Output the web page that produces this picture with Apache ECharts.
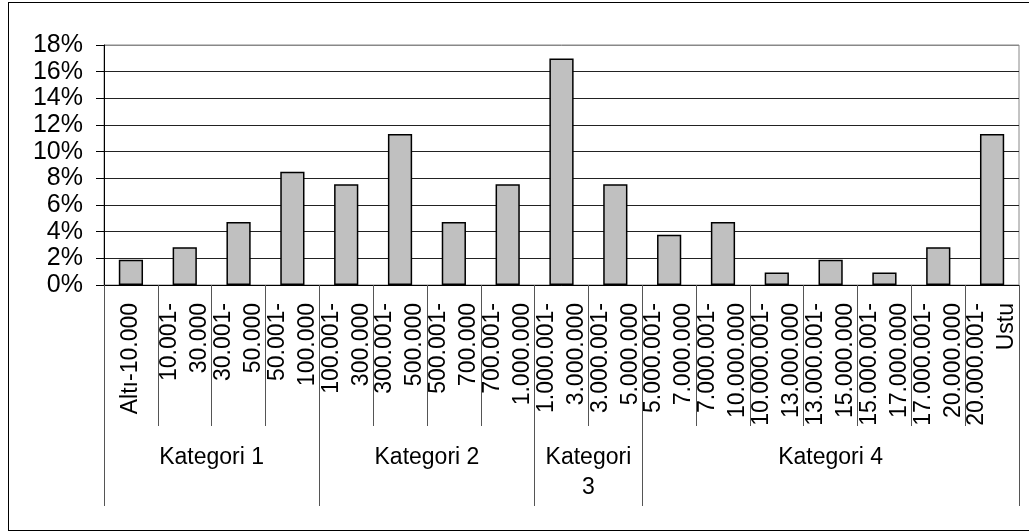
<!DOCTYPE html>
<html>
<head>
<meta charset="utf-8">
<script src="https://cdn.jsdelivr.net/npm/echarts@6/dist/echarts.min.js"></script>
<style>
    html, body { margin: 0; padding: 0; overflow: hidden; background: #fff; }
    #frame {
        position: absolute; left: 8px; top: 2px; width: 1060px; height: 529px;
        border: 1px solid #000; box-sizing: border-box;
    }
    #chart { position: absolute; left: 0; top: 0; width: 1029px; height: 531px; }
</style>
</head>
<body>
<div id="frame"></div>
<div id="chart"></div>
<script>
var categories = [
    'Altı-10.000', '10.001-\n30.000', '30.001-\n50.000', '50.001-\n100.000',
    '100.001-\n300.000', '300.001-\n500.000', '500.001-\n700.000', '700.001-\n1.000.000',
    '1.000.001-\n3.000.000', '3.000.001-\n5.000.000',
    '5.000.001-\n7.000.000', '7.000.001-\n10.000.000', '10.000.001-\n13.000.000',
    '13.000.001-\n15.000.000', '15.000.001-\n17.000.000', '17.000.001-\n20.000.000', '20.000.001-\nUstu'
];
var values = [1.89, 2.83, 4.72, 8.49, 7.55, 11.32, 4.72, 7.55, 16.98, 7.55, 3.77, 4.72, 0.94, 1.89, 0.94, 2.83, 11.32];
var groupNames = ['Kategori 1', 'Kategori 2', 'Kategori\n3', 'Kategori 4'];
var groupBounds = [0, 4, 8, 10, 17];   // category index where each group starts / ends
var groupCenters = [2, 6, 9, 13.5];
var yTicks = { min: 0, max: 18, step: 2 };

var chart = echarts.init(document.getElementById('chart'));
var font = 'Liberation Sans, Arial, sans-serif';

var option = {
    animation: false,
    grid: {
        show: true,
        left: 104,
        right: 10,
        top: 45,
        bottom: 246,
        borderColor: '#888',
        borderWidth: 1
    },
    xAxis: [
        {
            type: 'category',
            data: categories,
            axisLine: { show: true, lineStyle: { color: '#000', width: 1 } },
            axisTick: {
                show: true,
                interval: 0,
                length: 141,
                lineStyle: { color: '#555', width: 1 }
            },
            axisLabel: {
                interval: 0,
                rotate: 90,
                margin: 18,
                color: '#000',
                fontFamily: font,
                fontSize: 23,
                lineHeight: 30
            }
        },
        {
            // group level under the category labels
            type: 'value',
            position: 'bottom',
            offset: 141,
            min: 0,
            max: 17,
            axisLine: { show: false },
            splitLine: { show: false },
            axisTick: {
                show: true,
                customValues: groupBounds,
                length: 80,
                lineStyle: { color: '#555', width: 1 }
            },
            axisLabel: {
                customValues: groupCenters,
                margin: 17,
                color: '#000',
                fontFamily: font,
                fontSize: 23,
                lineHeight: 30,
                formatter: function (v) {
                    var i = groupCenters.indexOf(v);
                    return i >= 0 ? groupNames[i] : '';
                }
            }
        }
    ],
    yAxis: {
        type: 'value',
        min: yTicks.min,
        max: yTicks.max,
        interval: yTicks.step,
        axisLine: { show: true, lineStyle: { color: '#000', width: 1 } },
        axisTick: { show: true, length: 8, lineStyle: { color: '#000' } },
        axisLabel: {
            margin: 21,
            color: '#000',
            fontFamily: font,
            fontSize: 25,
            formatter: '{value}%'
        },
        splitLine: {
            show: true,
            lineStyle: {
                color: ['#222', '#222', '#222', '#222', '#222', '#222', '#222', '#222', '#222', '#888'],
                width: 1
            }
        }
    },
    series: [
        {
            type: 'bar',
            data: values,
            barWidth: '45%',
            itemStyle: {
                color: '#c0c0c0',
                borderColor: '#000',
                borderWidth: 1.5
            }
        }
    ]
};
chart.setOption(option);
</script>
</body>
</html>
